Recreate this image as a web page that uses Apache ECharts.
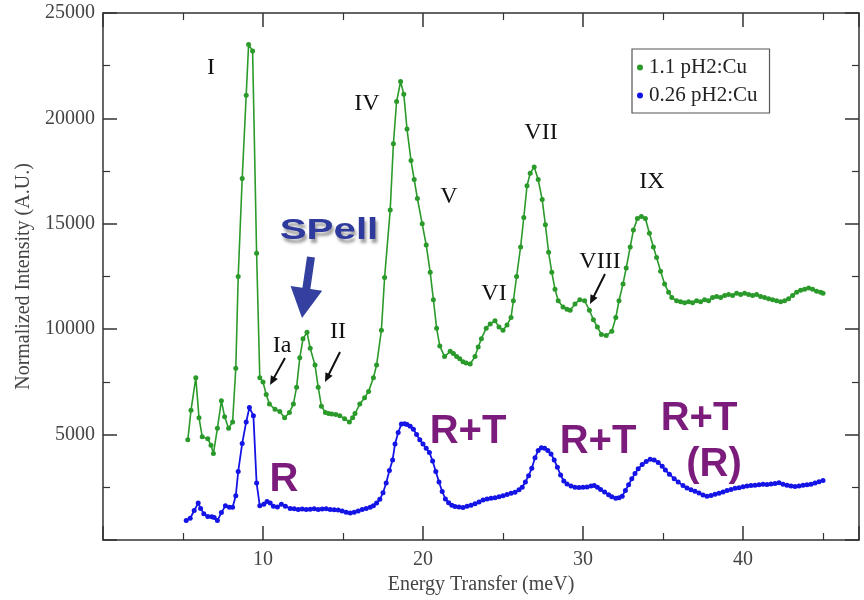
<!DOCTYPE html>
<html>
<head>
<meta charset="utf-8">
<script src="https://cdn.jsdelivr.net/npm/echarts@6/dist/echarts.min.js"></script>
<style>html,body{margin:0;padding:0;background:#fff}#c{width:864px;height:600px}</style>
</head>
<body>
<div id="c"></div>
<script>
// ---- data ----
var seriesNames = ['1.1 pH2:Cu', '0.26 pH2:Cu'];
var xTickValues = [10, 20, 30, 40];
var yTickValues = [5000, 10000, 15000, 20000, 25000];

var greenEnergy = [5.3,5.5,5.8,6.0,6.2,6.55,6.75,6.9,7.15,7.4,7.6,7.85,8.1,8.3,8.45,8.7,8.95,9.1,9.35,9.6,9.8,10.0,10.2,10.4,10.75,11.05,11.35,11.65,11.9,12.1,12.3,12.5,12.75,12.95,13.25,13.45,13.65,13.9,14.1,14.3,14.55,14.8,15.1,15.4,15.6,15.75,16.05,16.35,16.6,16.9,17.1,17.4,17.6,17.95,18.15,18.35,18.6,18.8,19.0,19.25,19.45,19.65,19.95,20.2,20.45,20.65,20.85,21.05,21.35,21.7,21.9,22.1,22.3,22.5,22.7,22.95,23.25,23.45,23.65,23.95,24.2,24.5,24.75,25.0,25.25,25.5,25.65,25.85,26.1,26.3,26.5,26.7,26.95,27.2,27.45,27.65,27.85,28.05,28.25,28.45,28.75,29.0,29.2,29.5,29.8,30.1,30.4,30.65,30.9,31.15,31.45,31.8,32.05,32.25,32.5,32.7,32.95,33.15,33.4,33.65,33.9,34.15,34.4,34.6,34.85,35.1,35.35,35.55,35.85,36.1,36.35,36.6,36.85,37.1,37.35,37.6,37.85,38.1,38.35,38.6,38.85,39.1,39.35,39.6,39.85,40.1,40.35,40.6,40.85,41.1,41.35,41.6,41.85,42.1,42.35,42.6,42.85,43.1,43.35,43.6,43.85,44.1,44.35,44.6,44.85,45.0];
var greenIntensity = [4750,6150,7700,5800,4900,4800,4500,4100,5300,6600,5850,5300,5600,8150,12500,17150,21100,23500,23200,13600,7700,7500,6900,6450,6200,6100,5800,6050,6450,7250,8650,9550,9850,9100,8300,7250,6350,6050,6000,5980,5950,5900,5750,5600,5800,6000,6450,6750,7050,7700,8300,9950,12450,15650,18800,20800,21750,21150,19500,18000,17100,16200,15000,14000,12700,11400,10050,9200,8700,8950,8850,8700,8600,8450,8400,8350,8700,9150,9550,10050,10250,10400,10100,9950,10200,10550,11350,12500,13900,15300,16800,17400,17700,17100,16150,14950,13650,12700,11900,11350,11050,10950,10900,11200,11400,11350,10900,10450,10100,9750,9700,9900,10550,11350,12150,12900,13900,14700,15250,15350,15250,14550,13900,13400,12750,12150,11750,11500,11350,11300,11250,11300,11250,11350,11300,11400,11350,11500,11550,11500,11600,11650,11600,11700,11650,11700,11650,11600,11650,11550,11500,11450,11400,11350,11300,11350,11450,11600,11750,11850,11900,11950,11900,11800,11750,11700];

var blueEnergy = [5.2,5.45,5.7,5.95,6.1,6.3,6.55,6.8,6.95,7.15,7.4,7.65,7.9,8.1,8.3,8.45,8.7,8.95,9.15,9.4,9.6,9.8,10.05,10.25,10.45,10.65,10.9,11.15,11.4,11.7,11.95,12.2,12.45,12.7,12.95,13.2,13.45,13.7,13.95,14.2,14.45,14.7,14.95,15.2,15.45,15.7,15.95,16.2,16.45,16.7,16.9,17.1,17.3,17.5,17.7,17.9,18.1,18.25,18.45,18.65,18.85,19.0,19.2,19.4,19.6,19.8,20.0,20.2,20.4,20.6,20.8,21.0,21.2,21.4,21.6,21.8,22.0,22.25,22.5,22.75,23.0,23.25,23.5,23.75,24.0,24.25,24.5,24.75,25.0,25.25,25.5,25.75,26.0,26.2,26.4,26.6,26.8,27.0,27.2,27.4,27.6,27.8,28.0,28.2,28.4,28.6,28.8,29.0,29.25,29.5,29.75,30.0,30.25,30.5,30.7,30.9,31.1,31.35,31.6,31.8,32.05,32.25,32.45,32.65,32.85,33.05,33.25,33.45,33.7,33.95,34.2,34.45,34.7,34.95,35.15,35.4,35.7,35.95,36.25,36.5,36.75,37.0,37.25,37.5,37.75,38.0,38.25,38.5,38.75,39.0,39.25,39.5,39.75,40.0,40.25,40.5,40.75,41.0,41.25,41.5,41.75,42.0,42.25,42.5,42.75,43.0,43.25,43.5,43.75,44.0,44.25,44.5,44.75,45.0];
var blueIntensity = [920,1030,1400,1750,1500,1250,1120,1100,1070,920,1300,1620,1550,1550,2100,3250,4580,5600,6280,5900,2700,1620,1700,1830,1750,1600,1560,1700,1600,1500,1480,1450,1470,1450,1460,1480,1450,1470,1480,1450,1430,1420,1380,1320,1280,1320,1380,1450,1500,1550,1620,1750,1930,2240,2700,3300,3800,4550,5100,5500,5520,5480,5400,5250,5000,4750,4550,4350,4150,3750,3250,2750,2300,1950,1770,1650,1590,1560,1540,1600,1650,1720,1800,1900,1950,1980,2000,2050,2100,2160,2220,2260,2380,2500,2750,3050,3400,3900,4250,4380,4350,4250,4080,3800,3450,3080,2800,2660,2560,2500,2490,2500,2520,2560,2580,2500,2400,2280,2150,2050,1980,2000,2080,2350,2620,2900,3150,3380,3580,3720,3830,3800,3680,3500,3320,3120,2910,2750,2580,2470,2380,2310,2230,2130,2080,2110,2170,2220,2280,2350,2400,2450,2480,2530,2560,2580,2600,2620,2640,2630,2660,2680,2720,2650,2600,2560,2540,2560,2600,2620,2640,2700,2760,2820];

function pairs(xs, ys) { return xs.map(function (x, i) { return [x, ys[i]]; }); }

var chart = echarts.init(document.getElementById('c'), null, { renderer: 'canvas' });
var serif = 'Liberation Serif';
var axisColor = '#333';
var labelColor = '#444';

function arrow(x1, y1, x2, y2, w, hl, hw, color) {
  var dx = x2 - x1, dy = y2 - y1, L = Math.sqrt(dx * dx + dy * dy);
  var ux = dx / L, uy = dy / L, px = -uy, py = ux;
  var bx = x2 - ux * hl, by = y2 - uy * hl;
  return [
    { type: 'polygon', shape: { points: [
      [x1 + px * w / 2, y1 + py * w / 2], [bx + px * w / 2, by + py * w / 2],
      [bx + px * hw / 2, by + py * hw / 2], [x2, y2],
      [bx - px * hw / 2, by - py * hw / 2], [bx - px * w / 2, by - py * w / 2],
      [x1 - px * w / 2, y1 - py * w / 2]] }, style: { fill: color }, z: 100 }
  ];
}

function roman(t, x, y) {
  return { type: 'text', x: x, y: y, z: 100, style: { text: t, font: '24px ' + serif, fill: '#111', align: 'center', verticalAlign: 'middle' } };
}
function purple(t, x, y) {
  return { type: 'text', x: x, y: y, z: 100, style: { text: t, font: 'bold 40px Liberation Sans', fill: '#7b1b7c', align: 'center', verticalAlign: 'middle' } };
}

var graphics = [
  roman('I', 211, 68), roman('IV', 367, 104), roman('V', 449, 197), roman('VI', 494, 294),
  roman('VII', 541, 133), roman('VIII', 600, 262), roman('IX', 652, 182),
  roman('Ia', 282, 346), roman('II', 338, 332),
  purple('R', 284, 480), purple('R+T', 468, 432), purple('R+T', 598, 442),
  purple('R+T', 699, 419), purple('(R)', 714, 465),
  { type: 'text', x: 329, y: 231, z: 100, scaleX: 1.12, scaleY: 0.8,
    style: { text: 'SPell', font: 'bold 36px Liberation Sans', fill: '#2e3a9c', align: 'center', verticalAlign: 'middle',
      textShadowColor: 'rgba(120,120,120,0.7)', textShadowBlur: 3, textShadowOffsetX: 2, textShadowOffsetY: 4 } }
];
graphics = graphics.concat(arrow(311, 257, 302, 318, 8, 30, 32, '#3340a0'));
graphics = graphics.concat(arrow(285, 358, 270, 385, 2, 9, 8, '#111'));
graphics = graphics.concat(arrow(340, 352, 325, 382, 2, 9, 8, '#111'));
graphics = graphics.concat(arrow(605, 274, 590, 304, 2, 9, 8, '#111'));

var tickCommon = { show: true, inside: true, length: 14, lineStyle: { color: axisColor, width: 1.5 } };
var minorCommon = { show: true, splitNumber: 2, length: 7, lineStyle: { color: axisColor, width: 1.2 } };
var lineCommon = { show: true, onZero: false, lineStyle: { color: axisColor, width: 1.5 } };

var option = {
  animation: false,
  backgroundColor: '#fff',
  grid: { left: 103, right: 5, top: 13, bottom: 52, containLabel: false },
  legend: {
    orient: 'vertical', left: 632, top: 49, padding: [8, 12, 7, 5], itemGap: 7,
    borderColor: '#555', borderWidth: 1.2, borderRadius: 0,
    icon: 'circle', itemWidth: 6, itemHeight: 6,
    textStyle: { fontFamily: serif, fontSize: 21, color: '#222', padding: [0, 0, 0, 1] },
    data: seriesNames
  },
  xAxis: [{
    type: 'value', min: 0, max: 47.25, interval: 10, position: 'bottom',
    name: 'Energy Transfer (meV)', nameLocation: 'middle', nameGap: 35,
    nameTextStyle: { fontFamily: serif, fontSize: 20, color: labelColor },
    axisLine: lineCommon,
    axisTick: tickCommon, minorTick: minorCommon, splitLine: { show: false },
    axisLabel: { fontFamily: serif, fontSize: 20, color: labelColor, margin: 10, showMinLabel: false, showMaxLabel: false,
      formatter: function (v) { return xTickValues.indexOf(v) >= 0 ? String(v) : ''; } }
  }, {
    type: 'value', min: 0, max: 47.25, interval: 10, position: 'top',
    axisLine: lineCommon,
    axisTick: tickCommon, minorTick: minorCommon, splitLine: { show: false }, axisLabel: { show: false }
  }],
  yAxis: [{
    type: 'value', min: 0, max: 25000, interval: 5000, position: 'left',
    name: 'Normalized Intensity (A.U.)', nameLocation: 'middle', nameGap: 68,
    nameTextStyle: { fontFamily: serif, fontSize: 20, color: labelColor },
    axisLine: lineCommon,
    axisTick: tickCommon, minorTick: minorCommon, splitLine: { show: false },
    axisLabel: { fontFamily: serif, fontSize: 20, color: labelColor, margin: 8, showMinLabel: false,
      formatter: function (v) { return yTickValues.indexOf(v) >= 0 ? String(v) : ''; } }
  }, {
    type: 'value', min: 0, max: 25000, interval: 5000, position: 'right',
    axisLine: lineCommon,
    axisTick: tickCommon, minorTick: minorCommon, splitLine: { show: false }, axisLabel: { show: false }
  }],
  series: [{
    name: seriesNames[0], type: 'line', xAxisIndex: 0, yAxisIndex: 0,
    data: pairs(greenEnergy, greenIntensity),
    symbol: 'circle', symbolSize: 5, showAllSymbol: true,
    lineStyle: { color: '#2a9a2a', width: 1.6 }, itemStyle: { color: '#2a9a2a' }
  }, {
    name: seriesNames[1], type: 'line', xAxisIndex: 0, yAxisIndex: 0,
    data: pairs(blueEnergy, blueIntensity),
    symbol: 'circle', symbolSize: 5, showAllSymbol: true,
    lineStyle: { color: '#1414e6', width: 1.8 }, itemStyle: { color: '#1414e6' }
  }],
  graphic: graphics
};
chart.setOption(option);
</script>
</body>
</html>
